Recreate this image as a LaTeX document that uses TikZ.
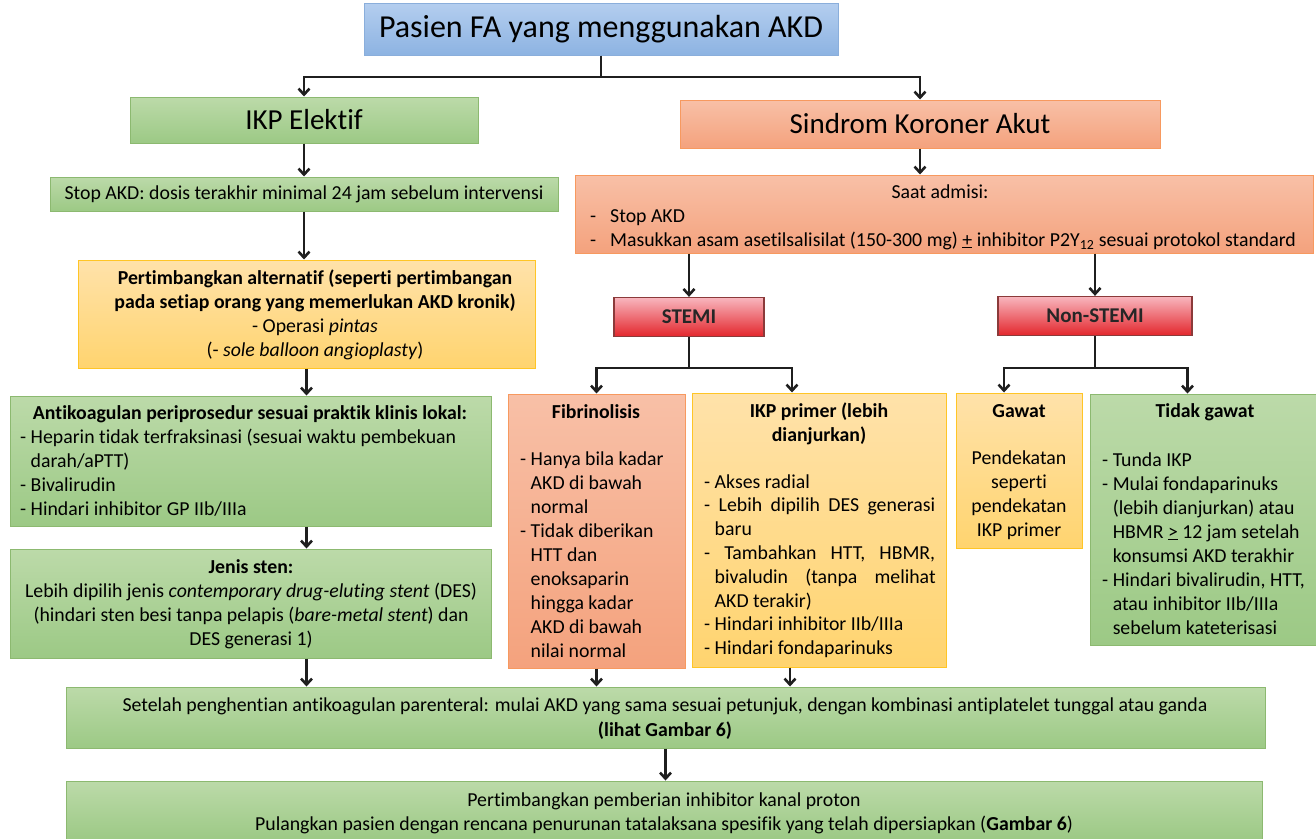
\documentclass[tikz,border=0pt]{standalone}
\usepackage{fontspec}
\setmainfont{Carlito}[RawFeature={-liga;-clig;-calt}]
\usetikzlibrary{arrows.meta}

% fill and border colours of the box families
\definecolor{grnT}{HTML}{BCDAA9}
\definecolor{grnD}{HTML}{9CC985}
\definecolor{grnB}{HTML}{8CB970}
\definecolor{orgT}{HTML}{F8C0A7}
\definecolor{orgD}{HTML}{F4A27D}
\definecolor{orgB}{HTML}{F7995F}
\definecolor{ylwT}{HTML}{FFE2AA}
\definecolor{ylwD}{HTML}{FFD46F}
\definecolor{ylwB}{HTML}{FFC526}
\definecolor{bluT}{HTML}{B4CEEF}
\definecolor{bluD}{HTML}{8DB3E2}
\definecolor{bluB}{HTML}{8AAEDB}
\definecolor{redT}{HTML}{F8B6BE}
\definecolor{redD}{HTML}{E3262C}
\definecolor{redB}{HTML}{8B3A3A}

\newcommand{\hng}{\hphantom{- }}
\newcommand{\jline}[2]{\makebox[#1][s]{#2}}

\tikzset{
  box/.style={rectangle, inner sep=0pt, line width=1pt},
  sz/.style 2 args={minimum width=#1, minimum height=#2},
  gbox/.style={box, draw=grnB, top color=grnT, bottom color=grnD},
  obox/.style={box, draw=orgB, top color=orgT, bottom color=orgD},
  ybox/.style={box, draw=ylwB, top color=ylwT, bottom color=ylwD},
  bbox/.style={box, draw=bluB, top color=bluT, bottom color=bluD},
  rbox/.style={box, draw=redB, line width=1.3pt, top color=redT, bottom color=redD},
  body/.style={font=\fontsize{19.8}{24}\selectfont, inner sep=0pt},
  conn/.style={line width=2.6pt, draw=black!88},
  arr/.style={conn, -{Straight Barb[length=6pt,width=11pt]}},
}

\begin{document}
\begin{tikzpicture}[x=1pt,y=-1pt]
\useasboundingbox (0,0) rectangle (1316,838);

% ---- top level ----
\node[bbox, sz={474pt}{52pt}, font=\fontsize{32}{36}\selectfont] (title) at (601,29) {Pasien FA yang menggunakan AKD};
\node[gbox, sz={348pt}{46pt}, font=\fontsize{29}{32}\selectfont] (ikp) at (304,120) {IKP Elektif};
\node[obox, sz={480pt}{48pt}, font=\fontsize{29}{32}\selectfont] (ska) at (920,124) {Sindrom Koroner Akut};

% ---- elective branch (multi-line texts are placed by their last baseline) ----
\node[gbox, sz={508pt}{34pt}, body] (stop) at (304,194) {Stop AKD: dosis terakhir minimal 24 jam sebelum intervensi};

\node[ybox, sz={457pt}{108pt}] (pert) at (306.5,314) {};
\node[body, align=center, anchor=base] (pert-t) at (315,356)
  {\textbf{Pertimbangkan alternatif (seperti pertimbangan}\\
   \textbf{pada setiap orang yang memerlukan AKD kronik)}\\
   - Operasi \textit{pintas}\\
   (- \textit{sole balloon angioplasty})};

\node[gbox, sz={481pt}{130pt}] (antik) at (250.5,461) {};
\node[body, anchor=base] (antik-h) at (250,419) {\textbf{Antikoagulan periprosedur sesuai praktik klinis lokal:}};
\node[body, align=left, anchor=base west] (antik-l) at (20,515)
  {- Heparin tidak terfraksinasi (sesuai waktu pembekuan\\
   \hng darah/aPTT)\\
   - Bivalirudin\\
   - Hindari inhibitor GP IIb/IIIa};

\node[gbox, sz={481pt}{109pt}] (jenis) at (250.5,603.5) {};
\node[body, align=center, anchor=base] (jenis-t) at (251,645)
  {\textbf{Jenis sten:}\\
   Lebih dipilih jenis \textit{contemporary drug-eluting stent} (DES)\\
   (hindari sten besi tanpa pelapis (\textit{bare-metal stent}) dan\\
   DES generasi 1)};

% ---- acute coronary syndrome branch ----
\node[obox, sz={738pt}{78pt}] (admisi) at (944,214) {};
\node[body, anchor=base] (admisi-h) at (940,198) {Saat admisi:};
\node[body, align=left, anchor=base west] (admisi-l) at (590,246)
  {\makebox[20pt][l]{-}Stop AKD\\
   \makebox[20pt][l]{-}Masukkan asam asetilsalisilat (150-300 mg) \underline{+} inhibitor P2Y\textsubscript{12} sesuai protokol standard};

\node[rbox, sz={150pt}{39pt}, font=\fontsize{21}{24}\selectfont\bfseries, text=black!85] (stemi) at (689,317) {STEMI};
\node[rbox, sz={194pt}{39pt}, font=\fontsize{21}{24}\selectfont\bfseries, text=black!85] (nstemi) at (1095,316) {Non-STEMI};

\node[obox, sz={177pt}{274pt}] (fib) at (596.5,531) {};
\node[body, anchor=base] (fib-h) at (596,418) {\textbf{Fibrinolisis}};
\node[body, align=left, anchor=base west] (fib-l) at (520,657)
  {- Hanya bila kadar\\
   \hng AKD di bawah\\
   \hng normal\\
   - Tidak diberikan\\
   \hng HTT dan\\
   \hng enoksaparin\\
   \hng hingga kadar\\
   \hng AKD di bawah\\
   \hng nilai normal};

\node[ybox, sz={254pt}{274pt}] (prim) at (819,530) {};
\node[body, align=center, anchor=base] (prim-h) at (819,441)
  {\textbf{IKP primer (lebih}\\ \textbf{dianjurkan)}};
\node[body, align=left, anchor=base west, font=\fontsize{19.8}{23.8}\selectfont] (prim-l) at (704,654.6)
  {- Akses radial\\
   \jline{231pt}{- Lebih dipilih DES generasi}\\
   \hng baru\\
   \jline{231pt}{- Tambahkan HTT, HBMR,}\\
   \hng\jline{221pt}{bivaludin (tanpa melihat}\\
   \hng AKD terakir)\\
   - Hindari inhibitor IIb/IIIa\\
   - Hindari fondaparinuks};

\node[ybox, sz={126pt}{155pt}] (gawat) at (1019,470.5) {};
\node[body, anchor=base] (gawat-h) at (1019,417) {\textbf{Gawat}};
\node[body, align=center, anchor=base] (gawat-t) at (1019,536)
  {Pendekatan\\ seperti\\ pendekatan\\ IKP primer};

\node[gbox, sz={227pt}{251pt}] (tidak) at (1203.5,519.5) {};
\node[body, anchor=base] (tidak-h) at (1205,417) {\textbf{Tidak gawat}};
\node[body, align=left, anchor=base west] (tidak-l) at (1102,634)
  {- Tunda IKP\\
   - Mulai fondaparinuks\\
   \hng (lebih dianjurkan) atau\\
   \hng HBMR \underline{>} 12 jam setelah\\
   \hng konsumsi AKD terakhir\\
   - Hindari bivalirudin, HTT,\\
   \hng atau inhibitor IIb/IIIa\\
   \hng sebelum kateterisasi};

% ---- common end ----
\node[gbox, sz={1199pt}{61pt}] (bot1) at (665.5,717.5) {};
\node[body, align=center, anchor=base, font=\fontsize{19.8}{25}\selectfont] (bot1-t) at (665,736)
  {Setelah penghentian antikoagulan parenteral: mulai AKD yang sama sesuai petunjuk, dengan kombinasi antiplatelet tunggal atau ganda\\
   \textbf{(lihat Gambar 6)}};

\node[gbox, sz={1196pt}{59pt}] (bot2) at (664,810.5) {};
\node[body, align=center, anchor=base] (bot2-t) at (664,830)
  {Pertimbangkan pemberian inhibitor kanal proton\\
   Pulangkan pasien dengan rencana penurunan tatalaksana spesifik yang telah dipersiapkan (\textbf{Gambar 6})};

% ---- connectors ----
\coordinate (j0) at (601,77);
\draw[conn] (title.south) -- (j0);
\draw[arr] (j0) -| (ikp.north);
\draw[arr] (j0) -| (ska.north);

\draw[arr] (ikp.south) -- (stop.north);
\draw[arr] (stop.south) -- (stop.south |- pert.north);
\draw[arr] (pert.south) -- (pert.south |- antik.north);
\draw[arr] (pert.south |- antik.south) -- (pert.south |- jenis.north);
\draw[arr] (pert.south |- jenis.south) -- (pert.south |- bot1.north);

\draw[arr] (ska.south) -- (ska.south |- admisi.north);
\draw[arr] (stemi.north |- admisi.south) -- (stemi.north);
\draw[arr] (nstemi.north |- admisi.south) -- (nstemi.north);

\coordinate (js) at (689,368);
\draw[conn] (stemi.south) -- (js);
\draw[arr] (js) -| (fib.north);
\draw[arr] (js) -| ([xshift=-27pt]prim.north);

\coordinate (jn) at (1095,368);
\draw[conn] (nstemi.south) -- (jn);
\draw[arr] (jn) -| ([xshift=-15pt]gawat.north);
\draw[arr] (jn) -| ([xshift=-16pt]tidak.north);

\draw[arr] (fib.south) -- (fib.south |- bot1.north);
\draw[arr] ([xshift=-29pt]prim.south) -- ([xshift=-29pt]prim.south |- bot1.north);
\draw[arr] (bot1.south) -- (bot1.south |- bot2.north);
\end{tikzpicture}
\end{document}
